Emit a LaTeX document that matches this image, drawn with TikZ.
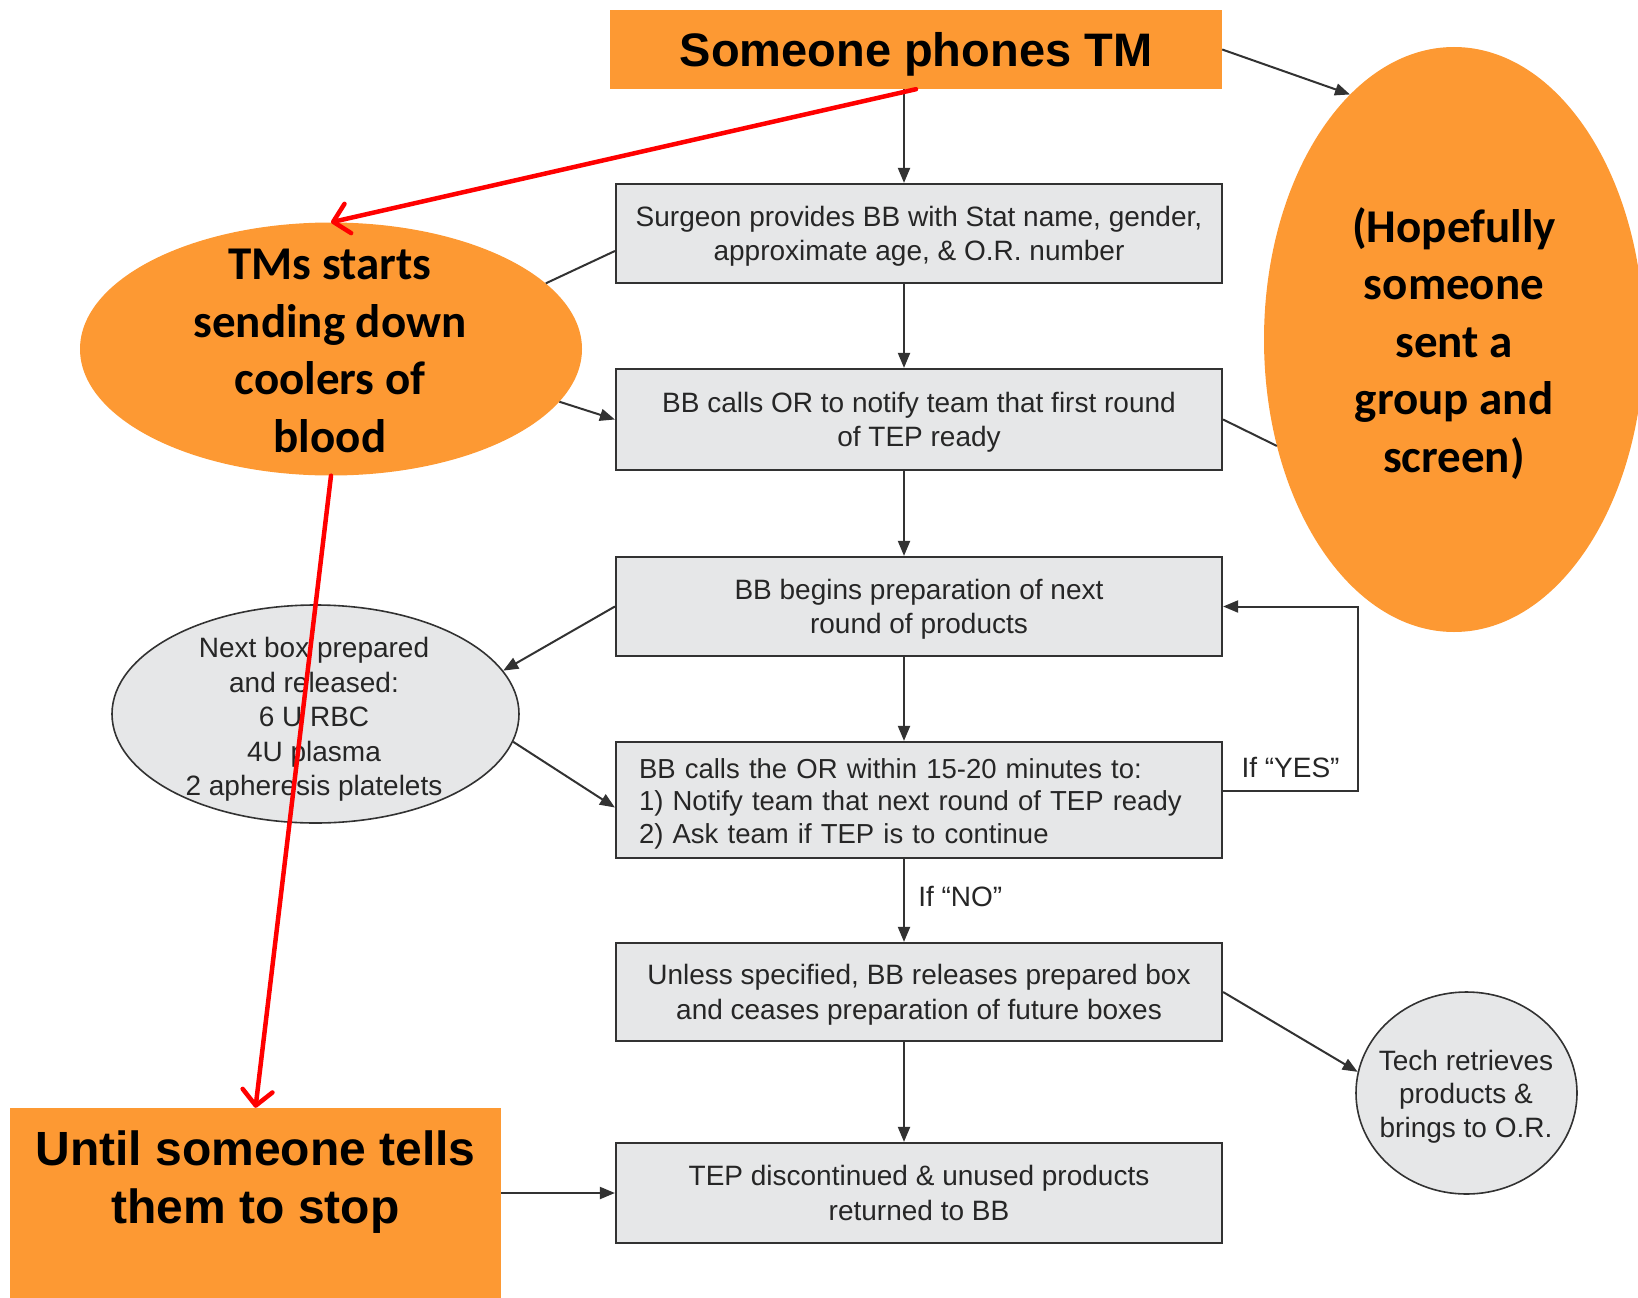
\documentclass[tikz,border=0pt]{standalone}
\usepackage{fontspec}
\setmainfont{Liberation Sans}
\newfontfamily\calibri{Carlito}
\usetikzlibrary{arrows.meta,shapes.geometric}
\definecolor{tmorange}{RGB}{253,153,51}
\definecolor{boxgray}{RGB}{230,231,232}
\definecolor{linegray}{RGB}{50,50,50}

\begin{document}
\begin{tikzpicture}[x=1pt, y=-1pt,
    stepbox/.style={draw=linegray, line width=2.2pt, fill=boxgray, text=black!85,
        minimum width=606pt, font=\fontsize{28}{34.5}\selectfont, align=center, text depth=-1.5pt},
    orangebox/.style={fill=tmorange, inner sep=0pt},
    orangeblob/.style={ellipse, fill=tmorange, inner sep=0pt},
    grayblob/.style={ellipse, draw=linegray, line width=1.6pt, fill=boxgray, inner sep=0pt},
    blobtext/.style={align=center, font=\calibri\fontsize{47}{57.5}\selectfont\bfseries},
    smalltext/.style={align=center, text=black!85, font=\fontsize{28}{34.5}\selectfont},
    bigtext/.style={align=center, font=\fontsize{48}{57.5}\selectfont\bfseries},
    arr/.style={draw=linegray, line width=2pt, -{Triangle[length=15pt,width=12pt]}},
    redarr/.style={draw=red, line width=4.5pt, line cap=round,
        -{Straight Barb[length=15pt,width=30pt,line cap=round,line join=round]}}
]
    \useasboundingbox (0,0) rectangle (1638,1298);
    \coordinate (spine) at (904,0);
    \coordinate (loop) at (1358,0);

    % Main flow
    \node[orangebox, minimum width=612pt, minimum height=79pt, text depth=0pt,
        font=\fontsize{47}{57.5}\selectfont\bfseries] (top) at (916,49.5) {Someone phones TM};
    \node[stepbox, minimum height=99pt] (box1) at (919,233.5)
        {Surgeon provides BB with Stat name, gender,\\approximate age, \& O.R. number};
    \node[stepbox, minimum height=101pt] (box2) at (919,419.5)
        {BB calls OR to notify team that first round\\of TEP ready};
    \node[stepbox, minimum height=99pt] (box3) at (919,606.5)
        {BB begins preparation of next\\round of products};
    \node[stepbox, minimum height=116pt, text width=560pt, align=left, text depth=63pt,
        font=\fontsize{27.5}{32.5}\selectfont] (box4) at (919,800)
        {BB calls the OR within 15-20 minutes to:\\1) Notify team that next round of TEP ready\\2) Ask team if TEP is to continue};
    \node[stepbox, minimum height=98pt] (box5) at (919,992)
        {Unless specified, BB releases prepared box\\and ceases preparation of future boxes};
    \node[stepbox, minimum height=100pt] (box6) at (919,1193)
        {TEP discontinued \& unused products\\returned to BB};

    % Side shapes
    \node[orangeblob, minimum width=502pt, minimum height=253pt] (tms) at (331,349) {};
    \node[blobtext] (tmstext) at (330,351) {TMs starts\\sending down\\coolers of\\blood};
    \node[orangeblob, minimum width=380pt, minimum height=585pt] (hope) at (1454,339.5) {};
    \node[blobtext] (hopetext) at (1454,343.5) {(Hopefully\\someone\\sent a\\group and\\screen)};
    \node[grayblob, minimum width=407pt, minimum height=218pt] (nextbox) at (315.5,714) {};
    \node[smalltext] (nexttext) at (314,719.5)
        {Next box prepared\\and released:\\6 U RBC\\4U plasma\\2 apheresis platelets};
    \node[grayblob, minimum width=221pt, minimum height=202pt] (tech) at (1466.5,1093) {};
    \node[smalltext, font=\fontsize{28}{33.4}\selectfont] (techtext) at (1466,1096.5)
        {Tech retrieves\\products \&\\brings to O.R.};
    \node[orangebox, minimum width=491pt, minimum height=192pt] (stop) at (255.5,1204) {};
    \node[bigtext] (stoptext) at (255.5,1182) {Until someone tells\\them to stop};

    % Connectors
    \foreach \a/\b in {top/box1,box1/box2,box2/box3,box3/box4,box5/box6}
        \draw[arr] (spine |- \a.south) -- (spine |- \b.north);
    \draw[arr] (spine |- box4.south) -- node[pos=0.45, right=10pt, smalltext] (nolabel) {If “NO”} (spine |- box5.north);
    \draw[arr] ([yshift=9pt]box4.east) -| node[pos=0.25, above=9pt, smalltext] (yeslabel) {If “YES”}
        (loop |- box3.east) -- (box3.east);
    \draw[arr] (top.east) -- (hope.113);
    \draw[draw=linegray, line width=2pt] (box2.east) -- (hope.211);
    \draw[draw=linegray, line width=2pt] ([yshift=-17.5pt]box1.west) -- (tms.17);
    \draw[arr] (tms.-13) -- (box2.west);
    \draw[arr] (box3.west) -- (nextbox.13);
    \draw[arr] (nextbox.-8) -- ([yshift=-7.5pt]box4.west);
    \draw[arr] (box5.east) -- (tech.169);
    \draw[arr] (stop.east |- box6.west) -- (box6.west);

    % Red arrows
    \draw[redarr] (top.south) -- (tms.north);
    \draw[redarr] (tms.south) -- (stop.north);
\end{tikzpicture}
\end{document}
